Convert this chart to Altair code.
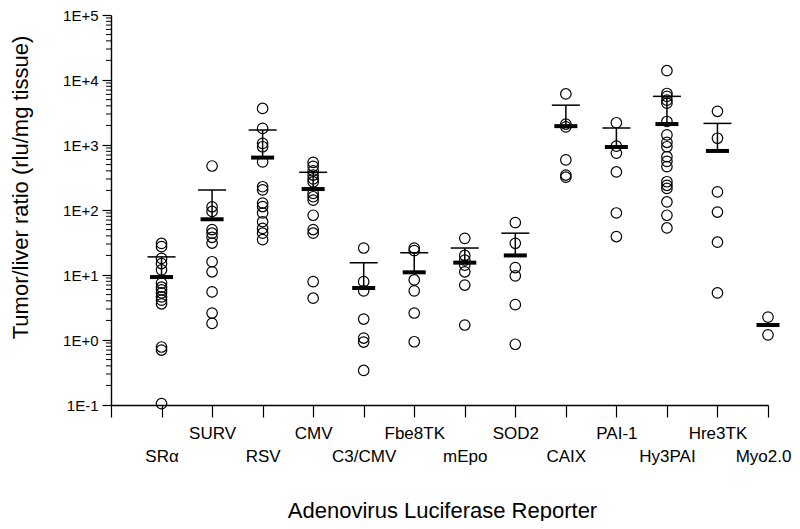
import json
import math
import altair as alt
import pandas as pd

categories = ["SRα", "SURV", "RSV", "CMV", "C3/CMV", "Fbe8TK", "mEpo",
              "SOD2", "CAIX", "PAI-1", "Hy3PAI", "Hre3TK", "Myo2.0"]

sra = [30.6, 27.3, 18, 15, 12, 7.5, 6.5, 5.9, 5.3, 4.6, 4.1, 3.6, 0.78, 0.70, 0.105]
surv = [475, 112, 95, 50, 44, 38, 31, 16, 11.2, 5.5, 2.6, 1.8]
rsv = [3650, 1800, 1060, 940, 550, 228, 204, 128, 113, 90, 66, 52, 44, 35]
cmv = [540, 470, 400, 345, 300, 270, 180, 160, 142, 83, 50, 44, 7.9, 4.4]
c3cmv = [26, 7.9, 5.7, 2.1, 1.07, 0.93, 0.34]
fbe8tk = [26, 23.7, 8.4, 5.7, 2.6, 0.94]
mepo = [36.6, 20, 17, 14.2, 11.2, 7, 1.7]
sod2 = [64, 30.7, 13, 9.7, 3.5, 0.86]
caix = [6100, 2100, 1900, 590, 345, 320]
pai1 = [2200, 960, 750, 385, 90, 39]
hy3pai = [13900, 6200, 5600, 4900, 4400, 2300, 1430, 1100, 940, 660, 560, 465,
          272, 240, 215, 133, 83, 53]
hre3tk = [3300, 1270, 190, 93, 32, 5.3]
myo20 = [2.25, 1.2]

means = [9.3, 72, 640, 210, 6.3, 11, 15.5, 20, 1950, 930, 2100, 810, 1.7]
uppers = [19, 203, 1700, 380, 15.4, 22, 26, 44, 4100, 1820, 5600, 2150, None]

y_ticks = [0.1, 1, 10, 100, 1000, 10000, 100000]

groups = [sra, surv, rsv, cmv, c3cmv, fbe8tk, mepo, sod2, caix, pai1, hy3pai, hre3tk, myo20]

points = pd.DataFrame(
    [{"idx": i, "cat": categories[i], "v": v} for i, g in enumerate(groups) for v in g]
)
summary = pd.DataFrame(
    [{"idx": i, "cat": categories[i], "mean": m, "upper": u}
     for i, (m, u) in enumerate(zip(means, uppers))]
)
err = summary.dropna(subset=["upper"])

minor = pd.DataFrame(
    [{"v": m * (10 ** k)} for k in range(-1, 5) for m in range(2, 10)]
)

FONT = "Liberation Sans"
names_js = json.dumps(categories, ensure_ascii=False)
x_label_expr = (
    f"datum.value < 0 ? '' : (datum.value % 2 == 0 ? ['', {names_js}[datum.value]]"
    f" : [{names_js}[datum.value]])"
)
y_label_expr = "'1E' + (datum.value >= 1 ? '+' : '') + round(log(datum.value) / LN10)"

x_scale = alt.Scale(domain=[-1, 12], nice=False, zero=False)
y_scale = alt.Scale(type="log", domain=[0.1, 100000], nice=False)

x_axis = alt.Axis(
    values=list(range(-1, 13)),
    labelExpr=x_label_expr,
    labelFont=FONT, labelFontSize=17, labelColor="black",
    labelBaseline="top", labelLineHeight=23, labelPadding=8,
    labelOffset={"condition": {"test": "datum.value == 12", "value": -5}, "value": 0},
    labelOverlap=False, labelFlush=False,
    tickSize=12, tickColor="black", tickWidth=1.2,
    domainColor="black", domainWidth=1.4,
    grid=False,
    title="Adenovirus Luciferase Reporter",
    titleFont=FONT, titleFontSize=22, titleFontWeight="normal", titleColor="black",
    titleX=331, titleY=105, titleBaseline="middle", titleAlign="center",
)
y_axis = alt.Axis(
    values=y_ticks,
    labelExpr=y_label_expr,
    labelFont=FONT, labelFontSize=15, labelColor="black",
    labelPadding=4,
    tickSize=9, tickColor="black", tickWidth=1.2,
    domainColor="black", domainWidth=1.4,
    grid=False,
    title="Tumor/liver ratio (rlu/mg tissue)",
    titleFont=FONT, titleFontSize=22, titleFontWeight="normal", titleColor="black",
    titleX=-91, titleY=172, titleAngle=270, titleBaseline="middle", titleAlign="center",
)

pts = alt.Chart(points).mark_point(
    shape="circle", filled=False, size=110, stroke="black", strokeWidth=1.2, opacity=1
).encode(
    x=alt.X("idx:Q", scale=x_scale, axis=x_axis),
    y=alt.Y("v:Q", scale=y_scale, axis=y_axis),
)

minor_ticks = alt.Chart(minor).mark_rule(color="black", strokeWidth=1).encode(
    y=alt.Y("v:Q", scale=y_scale),
    x=alt.value(-5),
    x2=alt.value(0),
)

stems = alt.Chart(err).mark_rule(color="black", strokeWidth=1.5).encode(
    x=alt.X("idx:Q", scale=x_scale),
    y=alt.Y("mean:Q", scale=y_scale),
    y2="upper:Q",
)

caps = alt.Chart(err).mark_tick(
    orient="horizontal", color="black", size=28, thickness=1.5, opacity=1
).encode(
    x=alt.X("idx:Q", scale=x_scale),
    y=alt.Y("upper:Q", scale=y_scale),
)

mean_bars = alt.Chart(summary).mark_tick(
    orient="horizontal", color="black", size=23, thickness=4, opacity=1
).encode(
    x=alt.X("idx:Q", scale=x_scale),
    y=alt.Y("mean:Q", scale=y_scale),
)

chart = alt.layer(pts, minor_ticks, stems, caps, mean_bars).properties(
    width=657,
    height=390,
    autosize=alt.AutoSizeParams(type="none"),
    padding={"left": 103, "top": 7, "right": 24, "bottom": 116},
    background="white",
).configure_view(stroke=None)

chart.save("out.html", embed_options={"renderer": "svg", "actions": False})
